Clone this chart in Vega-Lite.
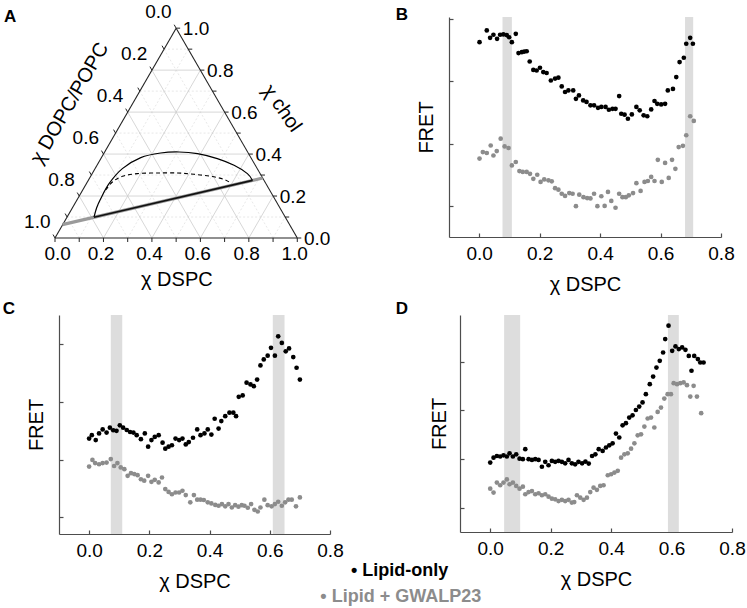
{
"$schema":"https://vega.github.io/schema/vega-lite/v6.json",
"padding":{"left":2,"top":2,"right":0,"bottom":0},
"spacing":5,
"vconcat":[
{"hconcat":[
{"width":242,"height":221,
"layer":[
{"data":{"name":"A_gridMinor"},"mark":{"type":"rule","color":"#e2e2e2","strokeWidth":0.8,"strokeDash":[2,2]},
"encoding":{"x":{"field":"x","type":"quantitative","scale":{"domain":[0.0165,1.0153],"nice":false,"zero":false},"axis":null},"y":{"field":"y","type":"quantitative","scale":{"domain":[0,0.9121],"nice":false,"zero":false},"axis":null},"x2":{"field":"x2"},"y2":{"field":"y2"}}},
{"data":{"name":"A_gridMajor"},"mark":{"type":"rule","color":"#cdcdcd","strokeWidth":0.8},
"encoding":{"x":{"field":"x","type":"quantitative","axis":null},"y":{"field":"y","type":"quantitative","axis":null},"x2":{"field":"x2"},"y2":{"field":"y2"}}},
{"data":{"name":"A_edges"},"mark":{"type":"rule","color":"#222222","strokeWidth":1.1},
"encoding":{"x":{"field":"x","type":"quantitative","axis":null},"y":{"field":"y","type":"quantitative","axis":null},"x2":{"field":"x2"},"y2":{"field":"y2"}}},
{"data":{"name":"A_ticks"},"mark":{"type":"rule","color":"#222222","strokeWidth":1},
"encoding":{"x":{"field":"x","type":"quantitative","axis":null},"y":{"field":"y","type":"quantitative","axis":null},"x2":{"field":"x2"},"y2":{"field":"y2"}}},
{"data":{"name":"A_tieGray"},"mark":{"type":"rule","color":"#9a9a9a","strokeWidth":3.2},
"encoding":{"x":{"field":"x","type":"quantitative","axis":null},"y":{"field":"y","type":"quantitative","axis":null},"x2":{"field":"x2"},"y2":{"field":"y2"}}},
{"data":{"name":"A_binodal"},"mark":{"type":"line","color":"#000000","strokeWidth":1.2,"interpolate":"cardinal"},
"encoding":{"x":{"field":"x","type":"quantitative","axis":null},"y":{"field":"y","type":"quantitative","axis":null}}},
{"data":{"name":"A_dashed"},"mark":{"type":"line","color":"#000000","strokeWidth":1.1,"strokeDash":[4,3],"interpolate":"cardinal"},
"encoding":{"x":{"field":"x","type":"quantitative","axis":null},"y":{"field":"y","type":"quantitative","axis":null}}},
{"data":{"name":"A_tie"},"mark":{"type":"rule","color":"#111111","strokeWidth":1.6},
"encoding":{"x":{"field":"x","type":"quantitative","axis":null},"y":{"field":"y","type":"quantitative","axis":null},"x2":{"field":"x2"},"y2":{"field":"y2"}}},
{"data":{"name":"A_labels"},"mark":{"type":"text","fontSize":19,"align":"center","baseline":"alphabetic","color":"#000000"},
"encoding":{"x":{"field":"x","type":"quantitative","axis":null},"y":{"field":"y","type":"quantitative","axis":null},"text":{"field":"t"}}},
{"data":{"values":[{}]},"mark":{"type":"text","text":"χ DSPC","fontSize":20,"align":"center","baseline":"alphabetic","color":"#000000"},
"encoding":{"x":{"datum":0.503,"type":"quantitative","axis":null},"y":{"datum":-0.199,"type":"quantitative","axis":null}}},
{"data":{"values":[{}]},"mark":{"type":"text","text":"χ chol","fontSize":20,"angle":55,"align":"center","baseline":"middle","color":"#000000"},
"encoding":{"x":{"datum":0.936,"type":"quantitative","axis":null},"y":{"datum":0.535,"type":"quantitative","axis":null}}},
{"data":{"values":[{}]},"mark":{"type":"text","text":"χ DOPC/POPC","fontSize":20,"angle":300,"align":"center","baseline":"middle","color":"#000000"},
"encoding":{"x":{"datum":0.061,"type":"quantitative","axis":null},"y":{"datum":0.556,"type":"quantitative","axis":null}}},
{"data":{"values":[{}]},"mark":{"type":"text","text":"A","fontSize":17,"fontWeight":"bold","align":"left","baseline":"alphabetic","color":"#000000"},
"encoding":{"x":{"datum":-0.2105,"type":"quantitative","axis":null},"y":{"datum":0.891,"type":"quantitative","axis":null}}}
]},
{"width":272,"height":220,
"layer":[
{"data":{"name":"B_bands"},"mark":{"type":"rect","color":"#dddddd"},
"encoding":{"x":{"field":"x","type":"quantitative","scale":{"domain":[-0.1,0.8],"nice":false,"zero":false},"axis":{"title":"χ DSPC","values":[0,0.2,0.4,0.6,0.8],"format":".1f"}},"x2":{"field":"x2"}}},
{"data":{"name":"B_pts"},"mark":{"type":"point","filled":true,"size":22,"opacity":1},
"encoding":{"x":{"field":"x","type":"quantitative","axis":{"title":"χ DSPC","values":[0,0.2,0.4,0.6,0.8],"format":".1f"}},"y":{"field":"y","type":"quantitative","scale":{"domain":[0,7.07],"nice":false,"zero":false},"axis":{"title":"FRET","values":[1,2,3,4,5,6,7],"titlePadding":12}},
"color":{"field":"series","type":"nominal","scale":{"domain":["Lipid-only","Lipid + GWALP23"],"range":["#000000","#8c8c8c"]},"legend":null}}},
{"data":{"values":[{}]},"mark":{"type":"text","text":"B","fontSize":17,"fontWeight":"bold","align":"left","baseline":"alphabetic","color":"#000000"},
"encoding":{"x":{"datum":-0.2764,"type":"quantitative"},"y":{"datum":6.961,"type":"quantitative"}}}
]}
],"bounds":"flush","spacing":148},
{"hconcat":[
{"width":271,"height":219,
"layer":[
{"data":{"name":"C_bands"},"mark":{"type":"rect","color":"#dddddd"},
"encoding":{"x":{"field":"x","type":"quantitative","scale":{"domain":[-0.1,0.8],"nice":false,"zero":false},"axis":{"title":"χ DSPC","values":[0,0.2,0.4,0.6,0.8],"format":".1f"}},"x2":{"field":"x2"}}},
{"data":{"name":"C_pts"},"mark":{"type":"point","filled":true,"size":22,"opacity":1},
"encoding":{"x":{"field":"x","type":"quantitative","axis":{"title":"χ DSPC","values":[0,0.2,0.4,0.6,0.8],"format":".1f"}},"y":{"field":"y","type":"quantitative","scale":{"domain":[0,7.6],"nice":false,"zero":false},"axis":{"title":"FRET","values":[0.58,1.58,2.58,3.58,4.58,5.58,6.58,7.58],"titlePadding":11.5}},
"color":{"field":"series","type":"nominal","scale":{"domain":["Lipid-only","Lipid + GWALP23"],"range":["#000000","#8c8c8c"]},"legend":null}}},
{"data":{"values":[{}]},"mark":{"type":"text","text":"C","fontSize":17,"fontWeight":"bold","align":"left","baseline":"alphabetic","color":"#000000"},
"encoding":{"x":{"datum":-0.287,"type":"quantitative"},"y":{"datum":7.65,"type":"quantitative"}}}
]},
{"width":272,"height":217,
"layer":[
{"data":{"name":"D_bands"},"mark":{"type":"rect","color":"#dddddd"},
"encoding":{"x":{"field":"x","type":"quantitative","scale":{"domain":[-0.1,0.8],"nice":false,"zero":false},"axis":{"title":"χ DSPC","values":[0,0.2,0.4,0.6,0.8],"format":".1f"}},"x2":{"field":"x2"}}},
{"data":{"name":"D_pts"},"mark":{"type":"point","filled":true,"size":22,"opacity":1},
"encoding":{"x":{"field":"x","type":"quantitative","axis":{"title":"χ DSPC","values":[0,0.2,0.4,0.6,0.8],"format":".1f"}},"y":{"field":"y","type":"quantitative","scale":{"domain":[0,8.91],"nice":false,"zero":false},"axis":{"title":"FRET","values":[1,2,3,4,5,6,7,8],"titlePadding":10}},
"color":{"field":"series","type":"nominal","scale":{"domain":["Lipid-only","Lipid + GWALP23"],"range":["#000000","#8c8c8c"]},"legend":null}}},
{"data":{"values":[{}]},"mark":{"type":"text","text":"D","fontSize":17,"fontWeight":"bold","align":"left","baseline":"alphabetic","color":"#000000"},
"encoding":{"x":{"datum":-0.3128,"type":"quantitative"},"y":{"datum":8.97,"type":"quantitative"}}},
{"data":{"values":[{}]},"mark":{"type":"text","text":"• Lipid-only","fontSize":18,"fontWeight":"bold","align":"center","baseline":"alphabetic","color":"#000000"},
"encoding":{"x":{"datum":-0.2995,"type":"quantitative"},"y":{"datum":-1.8,"type":"quantitative"}}},
{"data":{"values":[{}]},"mark":{"type":"text","text":"• Lipid + GWALP23","fontSize":18,"fontWeight":"bold","align":"center","baseline":"alphabetic","color":"#8c8c8c"},
"encoding":{"x":{"datum":-0.296,"type":"quantitative"},"y":{"datum":-2.88,"type":"quantitative"}}}
]}
],"bounds":"flush","spacing":130}
],
"datasets":{
"A_gridMinor":[
{"x":0.05,"y":0.0866,"x2":0.95,"y2":0.0866},{"x":0.15,"y":0.2598,"x2":0.85,"y2":0.2598},{"x":0.25,"y":0.433,"x2":0.75,"y2":0.433},{"x":0.35,"y":0.6062,"x2":0.65,"y2":0.6062},{"x":0.45,"y":0.7794,"x2":0.55,"y2":0.7794},
{"x":0.1,"y":0,"x2":0.55,"y2":0.7794},{"x":0.3,"y":0,"x2":0.65,"y2":0.6062},{"x":0.5,"y":0,"x2":0.75,"y2":0.433},{"x":0.7,"y":0,"x2":0.85,"y2":0.2598},{"x":0.9,"y":0,"x2":0.95,"y2":0.0866},
{"x":0.9,"y":0,"x2":0.45,"y2":0.7794},{"x":0.7,"y":0,"x2":0.35,"y2":0.6062},{"x":0.5,"y":0,"x2":0.25,"y2":0.433},{"x":0.3,"y":0,"x2":0.15,"y2":0.2598},{"x":0.1,"y":0,"x2":0.05,"y2":0.0866}],
"A_gridMajor":[
{"x":0.1,"y":0.1732,"x2":0.9,"y2":0.1732},{"x":0.2,"y":0.3464,"x2":0.8,"y2":0.3464},{"x":0.3,"y":0.5196,"x2":0.7,"y2":0.5196},{"x":0.4,"y":0.6928,"x2":0.6,"y2":0.6928},
{"x":0.2,"y":0,"x2":0.6,"y2":0.6928},{"x":0.4,"y":0,"x2":0.7,"y2":0.5196},{"x":0.6,"y":0,"x2":0.8,"y2":0.3464},{"x":0.8,"y":0,"x2":0.9,"y2":0.1732},
{"x":0.8,"y":0,"x2":0.4,"y2":0.6928},{"x":0.6,"y":0,"x2":0.3,"y2":0.5196},{"x":0.4,"y":0,"x2":0.2,"y2":0.3464},{"x":0.2,"y":0,"x2":0.1,"y2":0.1732}],
"A_edges":[{"x":0,"y":0,"x2":1,"y2":0},{"x":1,"y":0,"x2":0.5,"y2":0.866},{"x":0.5,"y":0.866,"x2":0,"y2":0}],
"A_ticks":[
{"x":0,"y":0,"x2":0,"y2":-0.0165},{"x":0.1,"y":0,"x2":0.1,"y2":-0.0165},{"x":0.2,"y":0,"x2":0.2,"y2":-0.0165},{"x":0.3,"y":0,"x2":0.3,"y2":-0.0165},{"x":0.4,"y":0,"x2":0.4,"y2":-0.0165},{"x":0.5,"y":0,"x2":0.5,"y2":-0.0165},{"x":0.6,"y":0,"x2":0.6,"y2":-0.0165},{"x":0.7,"y":0,"x2":0.7,"y2":-0.0165},{"x":0.8,"y":0,"x2":0.8,"y2":-0.0165},{"x":0.9,"y":0,"x2":0.9,"y2":-0.0165},{"x":1,"y":0,"x2":1,"y2":-0.0165},
{"x":1,"y":0,"x2":1.0165,"y2":0},{"x":0.95,"y":0.0866,"x2":0.9665,"y2":0.0866},{"x":0.9,"y":0.1732,"x2":0.9165,"y2":0.1732},{"x":0.85,"y":0.2598,"x2":0.8665,"y2":0.2598},{"x":0.8,"y":0.3464,"x2":0.8165,"y2":0.3464},{"x":0.75,"y":0.433,"x2":0.7665,"y2":0.433},{"x":0.7,"y":0.5196,"x2":0.7165,"y2":0.5196},{"x":0.65,"y":0.6062,"x2":0.6665,"y2":0.6062},{"x":0.6,"y":0.6928,"x2":0.6165,"y2":0.6928},{"x":0.55,"y":0.7794,"x2":0.5665,"y2":0.7794},{"x":0.5,"y":0.866,"x2":0.5165,"y2":0.866},
{"x":0.5,"y":0.866,"x2":0.4918,"y2":0.8803},{"x":0.45,"y":0.7794,"x2":0.4418,"y2":0.7937},{"x":0.4,"y":0.6928,"x2":0.3918,"y2":0.7071},{"x":0.35,"y":0.6062,"x2":0.3418,"y2":0.6205},{"x":0.3,"y":0.5196,"x2":0.2918,"y2":0.5339},{"x":0.25,"y":0.433,"x2":0.2418,"y2":0.4473},{"x":0.2,"y":0.3464,"x2":0.1918,"y2":0.3607},{"x":0.15,"y":0.2598,"x2":0.1418,"y2":0.2741},{"x":0.1,"y":0.1732,"x2":0.0918,"y2":0.1875},{"x":0.05,"y":0.0866,"x2":0.0418,"y2":0.1009},{"x":0,"y":0,"x2":-0.0082,"y2":0.0143}],
"A_tieGray":[{"x":0.0305,"y":0.0553,"x2":0.857,"y2":0.2476}],
"A_tie":[{"x":0.161,"y":0.0857,"x2":0.815,"y2":0.2378}],
"A_binodal":[{"x":0.161,"y":0.0857},{"x":0.172,"y":0.125},{"x":0.189,"y":0.163},{"x":0.223,"y":0.2245},{"x":0.278,"y":0.2864},{"x":0.354,"y":0.3318},{"x":0.436,"y":0.3508},{"x":0.512,"y":0.355},{"x":0.588,"y":0.348},{"x":0.67,"y":0.3277},{"x":0.739,"y":0.3},{"x":0.794,"y":0.2658},{"x":0.815,"y":0.2378}],
"A_dashed":[{"x":0.209,"y":0.198},{"x":0.237,"y":0.2311},{"x":0.278,"y":0.2546},{"x":0.34,"y":0.2658},{"x":0.423,"y":0.2683},{"x":0.506,"y":0.2683},{"x":0.574,"y":0.2629},{"x":0.643,"y":0.2547},{"x":0.697,"y":0.2423},{"x":0.725,"y":0.227}],
"A_labels":[
{"t":"0.0","x":0.011,"y":-0.092},{"t":"0.2","x":0.19,"y":-0.092},{"t":"0.4","x":0.39,"y":-0.092},{"t":"0.6","x":0.589,"y":-0.092},{"t":"0.8","x":0.791,"y":-0.092},{"t":"1.0","x":0.989,"y":-0.092},
{"t":"0.0","x":0.427,"y":0.909},{"t":"0.2","x":0.327,"y":0.736},{"t":"0.4","x":0.227,"y":0.563},{"t":"0.6","x":0.127,"y":0.389},{"t":"0.8","x":0.027,"y":0.216},{"t":"1.0","x":-0.073,"y":0.043},
{"t":"1.0","x":0.582,"y":0.838},{"t":"0.8","x":0.682,"y":0.665},{"t":"0.6","x":0.782,"y":0.492},{"t":"0.4","x":0.882,"y":0.318},{"t":"0.2","x":0.982,"y":0.145},{"t":"0.0","x":1.082,"y":-0.028}],
"B_bands":[{"x":0.077,"x2":0.108},{"x":0.681,"x2":0.708}],
"C_bands":[{"x":0.072,"x2":0.11},{"x":0.61,"x2":0.649}],
"D_bands":[{"x":0.046,"x2":0.099},{"x":0.588,"x2":0.624}],
"B_pts":[
{"x":0.001,"y":6.26,"series":"Lipid-only"},{"x":0.025,"y":6.64,"series":"Lipid-only"},{"x":0.036,"y":6.4,"series":"Lipid-only"},{"x":0.047,"y":6.5,"series":"Lipid-only"},{"x":0.059,"y":6.37,"series":"Lipid-only"},{"x":0.069,"y":6.5,"series":"Lipid-only"},{"x":0.08,"y":6.51,"series":"Lipid-only"},{"x":0.091,"y":6.49,"series":"Lipid-only"},{"x":0.099,"y":6.42,"series":"Lipid-only"},{"x":0.108,"y":6.26,"series":"Lipid-only"},{"x":0.121,"y":6.53,"series":"Lipid-only"},{"x":0.13,"y":5.91,"series":"Lipid-only"},{"x":0.141,"y":5.94,"series":"Lipid-only"},{"x":0.149,"y":5.96,"series":"Lipid-only"},{"x":0.157,"y":5.97,"series":"Lipid-only"},{"x":0.167,"y":5.64,"series":"Lipid-only"},{"x":0.179,"y":5.37,"series":"Lipid-only"},{"x":0.19,"y":5.35,"series":"Lipid-only"},{"x":0.201,"y":5.44,"series":"Lipid-only"},{"x":0.212,"y":5.3,"series":"Lipid-only"},{"x":0.223,"y":5.27,"series":"Lipid-only"},{"x":0.237,"y":5.03,"series":"Lipid-only"},{"x":0.251,"y":5.09,"series":"Lipid-only"},{"x":0.262,"y":5.12,"series":"Lipid-only"},{"x":0.273,"y":4.84,"series":"Lipid-only"},{"x":0.284,"y":4.66,"series":"Lipid-only"},{"x":0.295,"y":4.71,"series":"Lipid-only"},{"x":0.311,"y":4.71,"series":"Lipid-only"},{"x":0.32,"y":4.44,"series":"Lipid-only"},{"x":0.33,"y":4.55,"series":"Lipid-only"},{"x":0.344,"y":4.39,"series":"Lipid-only"},{"x":0.355,"y":4.34,"series":"Lipid-only"},{"x":0.368,"y":4.23,"series":"Lipid-only"},{"x":0.38,"y":4.23,"series":"Lipid-only"},{"x":0.393,"y":4.15,"series":"Lipid-only"},{"x":0.404,"y":4.18,"series":"Lipid-only"},{"x":0.418,"y":4.18,"series":"Lipid-only"},{"x":0.429,"y":4.09,"series":"Lipid-only"},{"x":0.441,"y":4.12,"series":"Lipid-only"},{"x":0.451,"y":4.12,"series":"Lipid-only"},{"x":0.463,"y":4.53,"series":"Lipid-only"},{"x":0.47,"y":3.96,"series":"Lipid-only"},{"x":0.481,"y":3.93,"series":"Lipid-only"},{"x":0.492,"y":3.8,"series":"Lipid-only"},{"x":0.505,"y":3.94,"series":"Lipid-only"},{"x":0.52,"y":4.18,"series":"Lipid-only"},{"x":0.531,"y":4.07,"series":"Lipid-only"},{"x":0.544,"y":3.91,"series":"Lipid-only"},{"x":0.556,"y":3.88,"series":"Lipid-only"},{"x":0.569,"y":4.1,"series":"Lipid-only"},{"x":0.58,"y":4.37,"series":"Lipid-only"},{"x":0.589,"y":4.28,"series":"Lipid-only"},{"x":0.602,"y":4.26,"series":"Lipid-only"},{"x":0.615,"y":4.28,"series":"Lipid-only"},{"x":0.624,"y":4.71,"series":"Lipid-only"},{"x":0.641,"y":4.76,"series":"Lipid-only"},{"x":0.652,"y":5.14,"series":"Lipid-only"},{"x":0.663,"y":5.62,"series":"Lipid-only"},{"x":0.677,"y":5.76,"series":"Lipid-only"},{"x":0.685,"y":6.21,"series":"Lipid-only"},{"x":0.698,"y":6.4,"series":"Lipid-only"},{"x":0.707,"y":6.21,"series":"Lipid-only"},
{"x":0.001,"y":2.52,"series":"Lipid + GWALP23"},{"x":0.012,"y":2.73,"series":"Lipid + GWALP23"},{"x":0.025,"y":2.7,"series":"Lipid + GWALP23"},{"x":0.038,"y":2.94,"series":"Lipid + GWALP23"},{"x":0.047,"y":2.62,"series":"Lipid + GWALP23"},{"x":0.058,"y":2.76,"series":"Lipid + GWALP23"},{"x":0.071,"y":3.16,"series":"Lipid + GWALP23"},{"x":0.084,"y":2.91,"series":"Lipid + GWALP23"},{"x":0.097,"y":2.86,"series":"Lipid + GWALP23"},{"x":0.108,"y":2.3,"series":"Lipid + GWALP23"},{"x":0.121,"y":2.41,"series":"Lipid + GWALP23"},{"x":0.133,"y":2.12,"series":"Lipid + GWALP23"},{"x":0.144,"y":2.09,"series":"Lipid + GWALP23"},{"x":0.157,"y":2.09,"series":"Lipid + GWALP23"},{"x":0.168,"y":2.03,"series":"Lipid + GWALP23"},{"x":0.179,"y":1.87,"series":"Lipid + GWALP23"},{"x":0.192,"y":2,"series":"Lipid + GWALP23"},{"x":0.203,"y":1.77,"series":"Lipid + GWALP23"},{"x":0.215,"y":1.85,"series":"Lipid + GWALP23"},{"x":0.229,"y":1.82,"series":"Lipid + GWALP23"},{"x":0.24,"y":1.79,"series":"Lipid + GWALP23"},{"x":0.251,"y":1.57,"series":"Lipid + GWALP23"},{"x":0.262,"y":1.52,"series":"Lipid + GWALP23"},{"x":0.273,"y":1.39,"series":"Lipid + GWALP23"},{"x":0.284,"y":1.32,"series":"Lipid + GWALP23"},{"x":0.298,"y":1.41,"series":"Lipid + GWALP23"},{"x":0.309,"y":1.39,"series":"Lipid + GWALP23"},{"x":0.32,"y":0.99,"series":"Lipid + GWALP23"},{"x":0.331,"y":1.36,"series":"Lipid + GWALP23"},{"x":0.345,"y":1.28,"series":"Lipid + GWALP23"},{"x":0.357,"y":1.25,"series":"Lipid + GWALP23"},{"x":0.368,"y":1.24,"series":"Lipid + GWALP23"},{"x":0.38,"y":1.39,"series":"Lipid + GWALP23"},{"x":0.391,"y":0.99,"series":"Lipid + GWALP23"},{"x":0.404,"y":1.31,"series":"Lipid + GWALP23"},{"x":0.415,"y":1,"series":"Lipid + GWALP23"},{"x":0.426,"y":1.45,"series":"Lipid + GWALP23"},{"x":0.437,"y":1.16,"series":"Lipid + GWALP23"},{"x":0.451,"y":0.94,"series":"Lipid + GWALP23"},{"x":0.463,"y":1.39,"series":"Lipid + GWALP23"},{"x":0.474,"y":1.28,"series":"Lipid + GWALP23"},{"x":0.485,"y":1.28,"series":"Lipid + GWALP23"},{"x":0.495,"y":1.34,"series":"Lipid + GWALP23"},{"x":0.509,"y":1.41,"series":"Lipid + GWALP23"},{"x":0.52,"y":1.73,"series":"Lipid + GWALP23"},{"x":0.534,"y":1.48,"series":"Lipid + GWALP23"},{"x":0.547,"y":1.77,"series":"Lipid + GWALP23"},{"x":0.558,"y":1.8,"series":"Lipid + GWALP23"},{"x":0.569,"y":1.93,"series":"Lipid + GWALP23"},{"x":0.58,"y":1.8,"series":"Lipid + GWALP23"},{"x":0.591,"y":2.48,"series":"Lipid + GWALP23"},{"x":0.604,"y":1.77,"series":"Lipid + GWALP23"},{"x":0.615,"y":2.38,"series":"Lipid + GWALP23"},{"x":0.627,"y":1.9,"series":"Lipid + GWALP23"},{"x":0.638,"y":2.48,"series":"Lipid + GWALP23"},{"x":0.649,"y":2.19,"series":"Lipid + GWALP23"},{"x":0.66,"y":2.89,"series":"Lipid + GWALP23"},{"x":0.674,"y":2.93,"series":"Lipid + GWALP23"},{"x":0.685,"y":3.27,"series":"Lipid + GWALP23"},{"x":0.698,"y":3.88,"series":"Lipid + GWALP23"},{"x":0.71,"y":3.73,"series":"Lipid + GWALP23"}],
"C_pts":[
{"x":0,"y":3.31,"series":"Lipid-only"},{"x":0.009,"y":3.43,"series":"Lipid-only"},{"x":0.022,"y":3.26,"series":"Lipid-only"},{"x":0.033,"y":3.49,"series":"Lipid-only"},{"x":0.045,"y":3.63,"series":"Lipid-only"},{"x":0.058,"y":3.52,"series":"Lipid-only"},{"x":0.069,"y":3.69,"series":"Lipid-only"},{"x":0.08,"y":3.6,"series":"Lipid-only"},{"x":0.091,"y":3.58,"series":"Lipid-only"},{"x":0.102,"y":3.77,"series":"Lipid-only"},{"x":0.113,"y":3.69,"series":"Lipid-only"},{"x":0.125,"y":3.61,"series":"Lipid-only"},{"x":0.136,"y":3.54,"series":"Lipid-only"},{"x":0.147,"y":3.52,"series":"Lipid-only"},{"x":0.158,"y":3.43,"series":"Lipid-only"},{"x":0.172,"y":3.29,"series":"Lipid-only"},{"x":0.185,"y":3.49,"series":"Lipid-only"},{"x":0.196,"y":3.03,"series":"Lipid-only"},{"x":0.207,"y":3.26,"series":"Lipid-only"},{"x":0.218,"y":3.37,"series":"Lipid-only"},{"x":0.231,"y":3.43,"series":"Lipid-only"},{"x":0.244,"y":3.17,"series":"Lipid-only"},{"x":0.253,"y":2.96,"series":"Lipid-only"},{"x":0.264,"y":3.03,"series":"Lipid-only"},{"x":0.275,"y":3.08,"series":"Lipid-only"},{"x":0.287,"y":3.31,"series":"Lipid-only"},{"x":0.299,"y":3.26,"series":"Lipid-only"},{"x":0.31,"y":3.31,"series":"Lipid-only"},{"x":0.321,"y":3.11,"series":"Lipid-only"},{"x":0.331,"y":3.19,"series":"Lipid-only"},{"x":0.345,"y":3.34,"series":"Lipid-only"},{"x":0.359,"y":3.63,"series":"Lipid-only"},{"x":0.37,"y":3.43,"series":"Lipid-only"},{"x":0.383,"y":3.49,"series":"Lipid-only"},{"x":0.394,"y":3.63,"series":"Lipid-only"},{"x":0.406,"y":3.45,"series":"Lipid-only"},{"x":0.417,"y":4,"series":"Lipid-only"},{"x":0.43,"y":3.66,"series":"Lipid-only"},{"x":0.439,"y":3.92,"series":"Lipid-only"},{"x":0.452,"y":4.09,"series":"Lipid-only"},{"x":0.466,"y":4.21,"series":"Lipid-only"},{"x":0.479,"y":4.21,"series":"Lipid-only"},{"x":0.488,"y":4.09,"series":"Lipid-only"},{"x":0.497,"y":4.76,"series":"Lipid-only"},{"x":0.51,"y":4.81,"series":"Lipid-only"},{"x":0.523,"y":5.25,"series":"Lipid-only"},{"x":0.536,"y":5.19,"series":"Lipid-only"},{"x":0.547,"y":5.13,"series":"Lipid-only"},{"x":0.558,"y":5.36,"series":"Lipid-only"},{"x":0.569,"y":5.85,"series":"Lipid-only"},{"x":0.58,"y":6.06,"series":"Lipid-only"},{"x":0.593,"y":6.19,"series":"Lipid-only"},{"x":0.604,"y":6.46,"series":"Lipid-only"},{"x":0.617,"y":6.19,"series":"Lipid-only"},{"x":0.628,"y":6.86,"series":"Lipid-only"},{"x":0.64,"y":6.63,"series":"Lipid-only"},{"x":0.653,"y":6.34,"series":"Lipid-only"},{"x":0.664,"y":6.44,"series":"Lipid-only"},{"x":0.678,"y":6.14,"series":"Lipid-only"},{"x":0.689,"y":5.77,"series":"Lipid-only"},{"x":0.7,"y":5.36,"series":"Lipid-only"},
{"x":0,"y":2.34,"series":"Lipid + GWALP23"},{"x":0.011,"y":2.57,"series":"Lipid + GWALP23"},{"x":0.02,"y":2.46,"series":"Lipid + GWALP23"},{"x":0.033,"y":2.42,"series":"Lipid + GWALP23"},{"x":0.045,"y":2.46,"series":"Lipid + GWALP23"},{"x":0.058,"y":2.48,"series":"Lipid + GWALP23"},{"x":0.072,"y":2.6,"series":"Lipid + GWALP23"},{"x":0.083,"y":2.36,"series":"Lipid + GWALP23"},{"x":0.094,"y":2.46,"series":"Lipid + GWALP23"},{"x":0.105,"y":2.31,"series":"Lipid + GWALP23"},{"x":0.117,"y":2.25,"series":"Lipid + GWALP23"},{"x":0.128,"y":2.02,"series":"Lipid + GWALP23"},{"x":0.139,"y":2.11,"series":"Lipid + GWALP23"},{"x":0.15,"y":2.08,"series":"Lipid + GWALP23"},{"x":0.161,"y":2.04,"series":"Lipid + GWALP23"},{"x":0.172,"y":1.9,"series":"Lipid + GWALP23"},{"x":0.183,"y":1.85,"series":"Lipid + GWALP23"},{"x":0.196,"y":2.02,"series":"Lipid + GWALP23"},{"x":0.207,"y":1.81,"series":"Lipid + GWALP23"},{"x":0.218,"y":1.88,"series":"Lipid + GWALP23"},{"x":0.231,"y":1.79,"series":"Lipid + GWALP23"},{"x":0.242,"y":1.96,"series":"Lipid + GWALP23"},{"x":0.253,"y":1.56,"series":"Lipid + GWALP23"},{"x":0.264,"y":1.46,"series":"Lipid + GWALP23"},{"x":0.275,"y":1.38,"series":"Lipid + GWALP23"},{"x":0.287,"y":1.44,"series":"Lipid + GWALP23"},{"x":0.299,"y":1.44,"series":"Lipid + GWALP23"},{"x":0.31,"y":1.5,"series":"Lipid + GWALP23"},{"x":0.321,"y":1.35,"series":"Lipid + GWALP23"},{"x":0.336,"y":1.1,"series":"Lipid + GWALP23"},{"x":0.348,"y":1.35,"series":"Lipid + GWALP23"},{"x":0.359,"y":1.19,"series":"Lipid + GWALP23"},{"x":0.37,"y":1.19,"series":"Lipid + GWALP23"},{"x":0.381,"y":1.18,"series":"Lipid + GWALP23"},{"x":0.394,"y":1.1,"series":"Lipid + GWALP23"},{"x":0.406,"y":1.06,"series":"Lipid + GWALP23"},{"x":0.419,"y":1.01,"series":"Lipid + GWALP23"},{"x":0.43,"y":0.98,"series":"Lipid + GWALP23"},{"x":0.441,"y":1.04,"series":"Lipid + GWALP23"},{"x":0.452,"y":0.96,"series":"Lipid + GWALP23"},{"x":0.463,"y":1.04,"series":"Lipid + GWALP23"},{"x":0.474,"y":0.92,"series":"Lipid + GWALP23"},{"x":0.485,"y":1,"series":"Lipid + GWALP23"},{"x":0.496,"y":0.95,"series":"Lipid + GWALP23"},{"x":0.507,"y":1,"series":"Lipid + GWALP23"},{"x":0.516,"y":0.98,"series":"Lipid + GWALP23"},{"x":0.527,"y":0.91,"series":"Lipid + GWALP23"},{"x":0.538,"y":1.04,"series":"Lipid + GWALP23"},{"x":0.549,"y":0.84,"series":"Lipid + GWALP23"},{"x":0.56,"y":0.78,"series":"Lipid + GWALP23"},{"x":0.569,"y":0.92,"series":"Lipid + GWALP23"},{"x":0.582,"y":1.19,"series":"Lipid + GWALP23"},{"x":0.593,"y":1,"series":"Lipid + GWALP23"},{"x":0.606,"y":0.96,"series":"Lipid + GWALP23"},{"x":0.617,"y":1.04,"series":"Lipid + GWALP23"},{"x":0.628,"y":1.12,"series":"Lipid + GWALP23"},{"x":0.64,"y":0.98,"series":"Lipid + GWALP23"},{"x":0.651,"y":1.1,"series":"Lipid + GWALP23"},{"x":0.662,"y":1.19,"series":"Lipid + GWALP23"},{"x":0.673,"y":1.19,"series":"Lipid + GWALP23"},{"x":0.687,"y":0.96,"series":"Lipid + GWALP23"},{"x":0.7,"y":1.27,"series":"Lipid + GWALP23"}],
"D_pts":[
{"x":0,"y":2.85,"series":"Lipid-only"},{"x":0.011,"y":3.05,"series":"Lipid-only"},{"x":0.022,"y":3.12,"series":"Lipid-only"},{"x":0.033,"y":3.1,"series":"Lipid-only"},{"x":0.044,"y":3.15,"series":"Lipid-only"},{"x":0.055,"y":3.1,"series":"Lipid-only"},{"x":0.064,"y":3.23,"series":"Lipid-only"},{"x":0.075,"y":3.1,"series":"Lipid-only"},{"x":0.086,"y":3.19,"series":"Lipid-only"},{"x":0.097,"y":3.01,"series":"Lipid-only"},{"x":0.108,"y":2.99,"series":"Lipid-only"},{"x":0.116,"y":3.4,"series":"Lipid-only"},{"x":0.127,"y":2.99,"series":"Lipid-only"},{"x":0.138,"y":2.96,"series":"Lipid-only"},{"x":0.149,"y":2.99,"series":"Lipid-only"},{"x":0.16,"y":2.96,"series":"Lipid-only"},{"x":0.171,"y":2.68,"series":"Lipid-only"},{"x":0.182,"y":2.88,"series":"Lipid-only"},{"x":0.193,"y":2.74,"series":"Lipid-only"},{"x":0.204,"y":2.92,"series":"Lipid-only"},{"x":0.215,"y":2.88,"series":"Lipid-only"},{"x":0.226,"y":2.92,"series":"Lipid-only"},{"x":0.237,"y":2.88,"series":"Lipid-only"},{"x":0.248,"y":2.82,"series":"Lipid-only"},{"x":0.259,"y":2.96,"series":"Lipid-only"},{"x":0.27,"y":2.82,"series":"Lipid-only"},{"x":0.281,"y":2.78,"series":"Lipid-only"},{"x":0.292,"y":2.88,"series":"Lipid-only"},{"x":0.304,"y":2.82,"series":"Lipid-only"},{"x":0.315,"y":2.89,"series":"Lipid-only"},{"x":0.326,"y":2.81,"series":"Lipid-only"},{"x":0.337,"y":3.12,"series":"Lipid-only"},{"x":0.348,"y":3.19,"series":"Lipid-only"},{"x":0.359,"y":3.4,"series":"Lipid-only"},{"x":0.372,"y":3.33,"series":"Lipid-only"},{"x":0.383,"y":3.47,"series":"Lipid-only"},{"x":0.394,"y":3.56,"series":"Lipid-only"},{"x":0.405,"y":3.64,"series":"Lipid-only"},{"x":0.416,"y":4.04,"series":"Lipid-only"},{"x":0.427,"y":3.88,"series":"Lipid-only"},{"x":0.438,"y":4.38,"series":"Lipid-only"},{"x":0.449,"y":4.47,"series":"Lipid-only"},{"x":0.46,"y":4.7,"series":"Lipid-only"},{"x":0.471,"y":4.79,"series":"Lipid-only"},{"x":0.482,"y":5.01,"series":"Lipid-only"},{"x":0.493,"y":5.15,"series":"Lipid-only"},{"x":0.504,"y":5.32,"series":"Lipid-only"},{"x":0.515,"y":5.66,"series":"Lipid-only"},{"x":0.528,"y":6.07,"series":"Lipid-only"},{"x":0.539,"y":6.38,"series":"Lipid-only"},{"x":0.55,"y":6.75,"series":"Lipid-only"},{"x":0.561,"y":7.03,"series":"Lipid-only"},{"x":0.572,"y":7.37,"series":"Lipid-only"},{"x":0.579,"y":7.92,"series":"Lipid-only"},{"x":0.59,"y":8.47,"series":"Lipid-only"},{"x":0.602,"y":7.44,"series":"Lipid-only"},{"x":0.613,"y":7.62,"series":"Lipid-only"},{"x":0.624,"y":7.51,"series":"Lipid-only"},{"x":0.635,"y":7.58,"series":"Lipid-only"},{"x":0.646,"y":7.48,"series":"Lipid-only"},{"x":0.657,"y":7.23,"series":"Lipid-only"},{"x":0.666,"y":6.62,"series":"Lipid-only"},{"x":0.675,"y":7.23,"series":"Lipid-only"},{"x":0.687,"y":7.1,"series":"Lipid-only"},{"x":0.695,"y":6.96,"series":"Lipid-only"},{"x":0.706,"y":6.96,"series":"Lipid-only"},
{"x":0,"y":1.78,"series":"Lipid + GWALP23"},{"x":0.011,"y":1.62,"series":"Lipid + GWALP23"},{"x":0.022,"y":2.03,"series":"Lipid + GWALP23"},{"x":0.033,"y":1.92,"series":"Lipid + GWALP23"},{"x":0.044,"y":2.03,"series":"Lipid + GWALP23"},{"x":0.055,"y":2.16,"series":"Lipid + GWALP23"},{"x":0.064,"y":1.96,"series":"Lipid + GWALP23"},{"x":0.075,"y":2.03,"series":"Lipid + GWALP23"},{"x":0.086,"y":1.89,"series":"Lipid + GWALP23"},{"x":0.097,"y":1.78,"series":"Lipid + GWALP23"},{"x":0.108,"y":1.86,"series":"Lipid + GWALP23"},{"x":0.116,"y":1.55,"series":"Lipid + GWALP23"},{"x":0.127,"y":1.64,"series":"Lipid + GWALP23"},{"x":0.138,"y":1.68,"series":"Lipid + GWALP23"},{"x":0.149,"y":1.55,"series":"Lipid + GWALP23"},{"x":0.16,"y":1.59,"series":"Lipid + GWALP23"},{"x":0.171,"y":1.51,"series":"Lipid + GWALP23"},{"x":0.182,"y":1.55,"series":"Lipid + GWALP23"},{"x":0.193,"y":1.45,"series":"Lipid + GWALP23"},{"x":0.204,"y":1.37,"series":"Lipid + GWALP23"},{"x":0.215,"y":1.34,"series":"Lipid + GWALP23"},{"x":0.226,"y":1.27,"series":"Lipid + GWALP23"},{"x":0.237,"y":1.32,"series":"Lipid + GWALP23"},{"x":0.248,"y":1.27,"series":"Lipid + GWALP23"},{"x":0.259,"y":1.32,"series":"Lipid + GWALP23"},{"x":0.27,"y":1.21,"series":"Lipid + GWALP23"},{"x":0.278,"y":1.23,"series":"Lipid + GWALP23"},{"x":0.287,"y":1.51,"series":"Lipid + GWALP23"},{"x":0.298,"y":1.41,"series":"Lipid + GWALP23"},{"x":0.309,"y":1.32,"series":"Lipid + GWALP23"},{"x":0.32,"y":1.41,"series":"Lipid + GWALP23"},{"x":0.331,"y":1.64,"series":"Lipid + GWALP23"},{"x":0.342,"y":1.82,"series":"Lipid + GWALP23"},{"x":0.353,"y":1.73,"series":"Lipid + GWALP23"},{"x":0.364,"y":1.89,"series":"Lipid + GWALP23"},{"x":0.375,"y":1.92,"series":"Lipid + GWALP23"},{"x":0.389,"y":2.33,"series":"Lipid + GWALP23"},{"x":0.4,"y":2.37,"series":"Lipid + GWALP23"},{"x":0.411,"y":2.44,"series":"Lipid + GWALP23"},{"x":0.422,"y":2.51,"series":"Lipid + GWALP23"},{"x":0.433,"y":3.05,"series":"Lipid + GWALP23"},{"x":0.444,"y":3.19,"series":"Lipid + GWALP23"},{"x":0.455,"y":3.23,"series":"Lipid + GWALP23"},{"x":0.466,"y":3.42,"series":"Lipid + GWALP23"},{"x":0.477,"y":3.64,"series":"Lipid + GWALP23"},{"x":0.488,"y":3.97,"series":"Lipid + GWALP23"},{"x":0.499,"y":4.01,"series":"Lipid + GWALP23"},{"x":0.51,"y":4.33,"series":"Lipid + GWALP23"},{"x":0.521,"y":4.66,"series":"Lipid + GWALP23"},{"x":0.532,"y":4.7,"series":"Lipid + GWALP23"},{"x":0.543,"y":4.29,"series":"Lipid + GWALP23"},{"x":0.554,"y":4.93,"series":"Lipid + GWALP23"},{"x":0.565,"y":5.11,"series":"Lipid + GWALP23"},{"x":0.576,"y":5.48,"series":"Lipid + GWALP23"},{"x":0.587,"y":5.66,"series":"Lipid + GWALP23"},{"x":0.598,"y":5.66,"series":"Lipid + GWALP23"},{"x":0.607,"y":6.11,"series":"Lipid + GWALP23"},{"x":0.618,"y":6.07,"series":"Lipid + GWALP23"},{"x":0.629,"y":6.11,"series":"Lipid + GWALP23"},{"x":0.64,"y":6.14,"series":"Lipid + GWALP23"},{"x":0.651,"y":6.03,"series":"Lipid + GWALP23"},{"x":0.662,"y":5.56,"series":"Lipid + GWALP23"},{"x":0.673,"y":6,"series":"Lipid + GWALP23"},{"x":0.684,"y":5.56,"series":"Lipid + GWALP23"},{"x":0.698,"y":4.88,"series":"Lipid + GWALP23"}]
},
"config":{
"view":{"stroke":null},
"font":"Liberation Sans",
"text":{"font":"Liberation Sans"},
"axis":{"grid":false,"domainColor":"#4d4d4d","domainWidth":1.2,"tickColor":"#4d4d4d","tickWidth":1.2,"tickSize":-4,"tickRound":true,"labelFont":"Liberation Sans","labelFontSize":19,"labelColor":"#000000","titleFont":"Liberation Sans","titleFontSize":20,"titleFontWeight":"normal","titleColor":"#000000"},
"axisX":{"labelPadding":11,"titlePadding":11,"labelFlush":false},
"axisY":{"labels":false}
}
}
